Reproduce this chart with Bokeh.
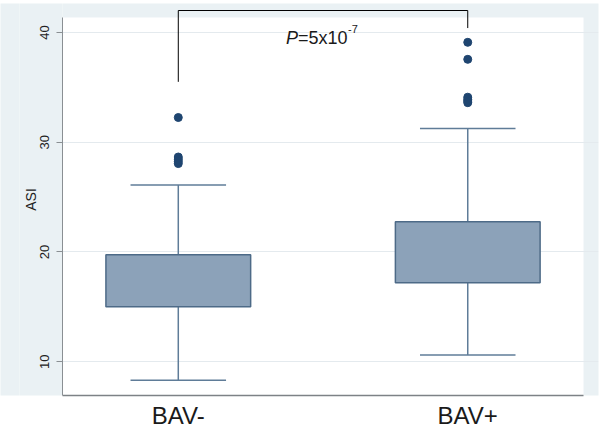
from bokeh.plotting import figure
from bokeh.models import Range1d, FixedTicker, BoxAnnotation, ColumnDataSource, LinearAxis
from bokeh.core.properties import value
from bokeh.embed import file_html
from bokeh.resources import INLINE

# ---- data ----
groups = ["BAV-", "BAV+"]
group_x = [1, 2]
q1 = [15.0, 17.2]
median = [17.4, 20.05]
q3 = [19.75, 22.75]
whisker_low = [8.3, 10.6]
whisker_high = [26.1, 31.25]
outliers_minus = [32.25, 28.65, 28.45, 28.25, 28.05]
outliers_plus = [39.1, 37.55, 34.1, 33.9, 33.75, 33.6]
y_ticks = [10, 20, 30, 40]
y_label = "ASI"
p_text = ["P", "=5x10", "-7"]
bracket_y = 42.0
bracket_ends = [35.5, 40.4]

# ---- styling constants ----
BG = "#eaf1f4"
FONT = "Liberation Sans"
X_RANGE = (0.6, 2.4517)
PLOT_X = (0.6, 2.4)
Y_TOP = 42.638
Y_BOTTOM = 6.918
PLOT_Y_TOP = 41.37

p = figure(width=601, height=431, output_backend="svg", toolbar_location=None,
           x_range=Range1d(*X_RANGE), y_range=Range1d(Y_BOTTOM, Y_TOP),
           min_border_left=61, min_border_right=3, min_border_top=3, min_border_bottom=34)
p.background_fill_color = BG
p.border_fill_color = "white"
p.outline_line_color = None

plot_area = BoxAnnotation(left=PLOT_X[0], right=PLOT_X[1], bottom=Y_BOTTOM, top=PLOT_Y_TOP,
                          fill_color="white", fill_alpha=1, line_color=None, level="image")
p.add_layout(plot_area)

# grid
p.xgrid.visible = False
p.ygrid.ticker = FixedTicker(ticks=y_ticks)
p.ygrid.grid_line_color = "#e4eaee"
p.ygrid.grid_line_width = 1

# y axis
yax = p.yaxis[0]
yax.ticker = FixedTicker(ticks=y_ticks)
yax.bounds = (Y_BOTTOM, PLOT_Y_TOP)
yax.axis_line_color = "#8a8f93"
yax.major_tick_line_color = "#8a8f93"
yax.major_tick_out = 6
yax.major_tick_in = 0
yax.minor_tick_line_color = None
yax.major_label_orientation = "vertical"
yax.major_label_text_font = FONT
yax.major_label_text_font_size = "13px"
yax.major_label_text_color = "#222222"
yax.major_label_standoff = 7
yax.axis_label = y_label
yax.axis_label_text_font = FONT
yax.axis_label_text_font_style = "normal"
yax.axis_label_text_font_size = "14px"
yax.axis_label_text_color = "#222222"
yax.axis_label_standoff = -1
yax.background_fill_color = BG

# empty outer axis: only extends the light background to the left edge
pad_axis = LinearAxis(ticker=FixedTicker(ticks=[]), axis_line_color=None,
                      major_tick_line_color=None, minor_tick_line_color=None,
                      axis_label=" ", axis_label_text_font_size="12px",
                      axis_label_standoff=2, background_fill_color=BG)
p.add_layout(pad_axis, "left")

# x axis
xax = p.xaxis[0]
xax.ticker = FixedTicker(ticks=group_x)
xax.major_label_overrides = {gx: g for gx, g in zip(group_x, groups)}
xax.bounds = PLOT_X
xax.axis_line_color = "#7d8286"
xax.axis_line_width = 1.5
xax.major_tick_line_color = None
xax.minor_tick_line_color = None
xax.major_tick_out = 0
xax.major_tick_in = 0
xax.major_label_standoff = 6
xax.major_label_text_font = FONT
xax.major_label_text_font_size = "24px"
xax.major_label_text_color = "#1a1a1a"

# boxes
src = ColumnDataSource(dict(x=group_x, q1=q1, med=median, q3=q3, lo=whisker_low, hi=whisker_high))
WHISK = "#5f7c98"
p.segment(x0="x", y0="lo", x1="x", y1="q1", source=src, line_color=WHISK, line_width=1.5)
p.segment(x0="x", y0="q3", x1="x", y1="hi", source=src, line_color=WHISK, line_width=1.5)
cap = 0.165
capsrc = ColumnDataSource(dict(x0=[g - cap for g in group_x], x1=[g + cap for g in group_x],
                               lo=whisker_low, hi=whisker_high))
p.segment(x0="x0", y0="lo", x1="x1", y1="lo", source=capsrc, line_color=WHISK, line_width=1.5)
p.segment(x0="x0", y0="hi", x1="x1", y1="hi", source=capsrc, line_color=WHISK, line_width=1.5)
p.vbar(x="x", bottom="q1", top="q3", width=0.5, source=src,
       fill_color="#8ca2b9", line_color="#4d6a87", line_width=1.5)
p.rect(x="x", y="med", width=0.5, height=0, source=src, line_color="#4a6480", line_width=2.2,
       fill_color=None)

# outliers
ox = [group_x[0]] * len(outliers_minus) + [group_x[1]] * len(outliers_plus)
oy = outliers_minus + outliers_plus
p.scatter(ox, oy, size=8, fill_color="#1f4570", line_color="#1f4570")

# significance bracket
p.segment(x0=[group_x[0]], y0=[bracket_y], x1=[group_x[1]], y1=[bracket_y], line_color="black", line_width=1)
p.segment(x0=group_x, y0=[bracket_y, bracket_y], x1=group_x, y1=bracket_ends, line_color="black", line_width=1)

mid = (group_x[0] + group_x[1]) / 2
ty = 39.47
p.text(x=[mid], y=[ty], text=[p_text[0]], text_font=value(FONT), text_font_size="18px",
       text_font_style="italic", text_baseline="alphabetic", text_align="left", x_offset=-37,
       text_color="#1a1a1a")
p.text(x=[mid], y=[ty], text=[p_text[1]], text_font=value(FONT), text_font_size="18px",
       text_baseline="alphabetic", text_align="left", x_offset=-25, text_color="#1a1a1a")
p.text(x=[mid], y=[ty], text=[p_text[2]], text_font=value(FONT), text_font_size="11px",
       text_baseline="alphabetic", text_align="left", x_offset=25, y_offset=-9, text_color="#1a1a1a")

open("out.html", "w").write(file_html(p, INLINE))
